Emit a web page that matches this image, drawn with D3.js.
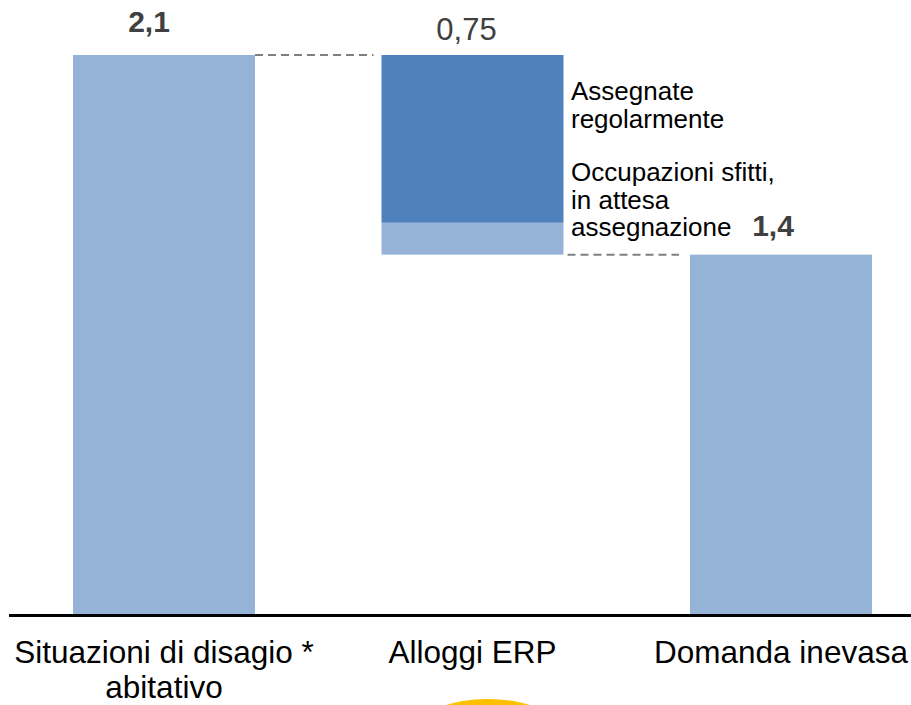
<!DOCTYPE html>
<html>
<head>
<meta charset="utf-8">
<script src="https://cdn.jsdelivr.net/npm/d3@7"></script>
<style>
  body { margin: 0; background: #fff; }
  svg { display: block; font-family: "Liberation Sans", Arial, sans-serif; }
</style>
</head>
<body>
<svg id="chart" width="911" height="705"></svg>
<script>
/*************************** Data ***************************/

var categories = ["Situazioni di disagio * abitativo", "Alloggi ERP", "Domanda inevasa"];
var categoryLines = [["Situazioni di disagio *", "abitativo"], ["Alloggi ERP"], ["Domanda inevasa"]];

// waterfall segments
var segCategory = ["Situazioni di disagio * abitativo", "Alloggi ERP", "Alloggi ERP", "Domanda inevasa"];
var segBase     = [0, 1.35, 1.47, 0];
var segValue    = [2.1, 0.12, 0.63, 1.35];
var segKind     = ["light", "light", "dark", "light"];

var valueLabels = ["2,1", "0,75", "1,4"];
var valueTops   = [2.1, 2.1, 1.35];
var valueBold   = [true, false, true];

var noteLines = [["Assegnate", "regolarmente"], ["Occupazioni sfitti,", "in attesa", "assegnazione"]];

/*************************** Scales ***************************/

var svg = d3.select("#chart");
var colors = { light: "#95b3d7", dark: "#4f81bd" };
var barW = 182;

var x = d3.scalePoint().domain(categories).range([164, 781]);
var y = d3.scaleLinear().domain([0, 2.1]).range([614, 55]);

/*************************** Bars ***************************/

svg.selectAll("rect.seg")
  .data(segValue)
  .enter().append("rect")
  .attr("class", "seg")
  .attr("x", function(d, i){ return x(segCategory[i]) - barW/2; })
  .attr("y", function(d, i){ return y(segBase[i] + d); })
  .attr("width", barW)
  .attr("height", function(d, i){ return y(segBase[i]) - y(segBase[i] + d); })
  .style("fill", function(d, i){ return colors[segKind[i]]; });

/*************************** Connectors ***************************/

var connectors = [
  { from: categories[0], to: categories[1], v: 2.1, gap0: 0, gap1: 8 },
  { from: categories[1], to: categories[2], v: 1.35, gap0: 4, gap1: 11 }
];

svg.selectAll("line.conn")
  .data(connectors)
  .enter().append("line")
  .attr("class", "conn")
  .attr("x1", function(d){ return x(d.from) + barW/2 + d.gap0; })
  .attr("x2", function(d){ return x(d.to) - barW/2 - d.gap1; })
  .attr("y1", function(d){ return y(d.v); })
  .attr("y2", function(d){ return y(d.v); })
  .style("stroke", "#808080")
  .style("stroke-width", 2)
  .style("stroke-dasharray", "8,5");

/*************************** Baseline ***************************/

svg.append("line")
  .attr("x1", 9).attr("x2", 911)
  .attr("y1", y(0) + 1.5).attr("y2", y(0) + 1.5)
  .style("stroke", "#000")
  .style("stroke-width", 3);

/*************************** Value labels ***************************/

var labelDx = [-15, -6, -8];
var labelDy = [-23, -15, -19];
svg.selectAll("text.val")
  .data(valueLabels)
  .enter().append("text")
  .attr("class", "val")
  .attr("x", function(d, i){ return x(categories[i]) + labelDx[i]; })
  .attr("y", function(d, i){ return y(valueTops[i]) + labelDy[i]; })
  .attr("text-anchor", "middle")
  .style("font-size", function(d, i){ return valueBold[i] ? "30px" : "31px"; })
  .style("font-weight", function(d, i){ return valueBold[i] ? "bold" : "normal"; })
  .style("fill", "#404040")
  .text(function(d){ return d; });

/*************************** Notes ***************************/

var noteTop = [100, 181];
noteLines.forEach(function(lines, k){
  svg.append("text")
    .attr("y", noteTop[k])
    .style("font-size", "26px")
    .style("fill", "#000")
    .selectAll("tspan")
    .data(lines)
    .enter().append("tspan")
    .attr("x", 571)
    .attr("dy", function(d, i){ return i == 0 ? 0 : 27.5; })
    .text(function(d){ return d; });
});

/*************************** Category labels ***************************/

svg.selectAll("text.cat")
  .data(categories)
  .enter().append("text")
  .attr("class", "cat")
  .attr("y", 663)
  .attr("text-anchor", "middle")
  .style("font-size", "31.5px")
  .style("fill", "#000")
  .each(function(d, i){
    d3.select(this).selectAll("tspan")
      .data(categoryLines[i])
      .enter().append("tspan")
      .attr("x", x(d))
      .attr("dy", function(t, j){ return j == 0 ? 0 : 35; })
      .text(function(t){ return t; });
  });

/*************************** Decoration ***************************/

svg.append("ellipse")
  .attr("cx", 488).attr("cy", 729)
  .attr("rx", 70).attr("ry", 30)
  .style("fill", "#ffc000");
</script>
</body>
</html>
